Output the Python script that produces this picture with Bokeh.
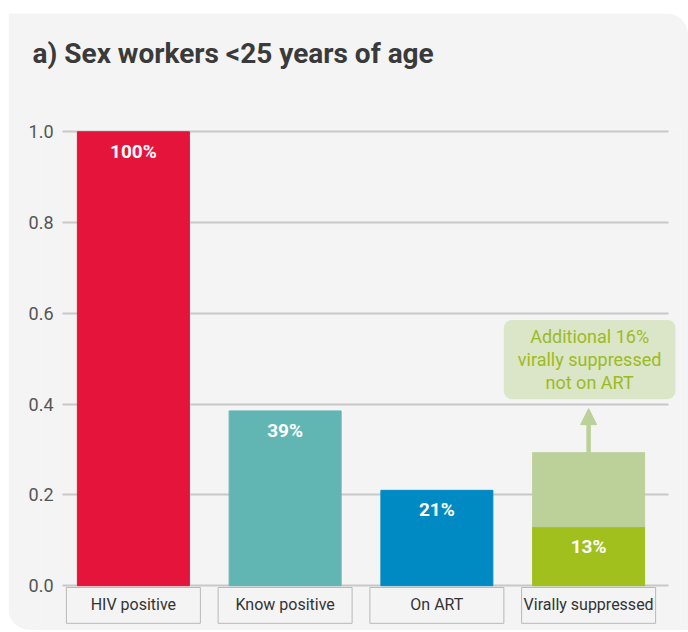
from bokeh.plotting import figure
from bokeh.models import (ColumnDataSource, FixedTicker, NumeralTickFormatter, Label, Arrow,
                          NormalHead, FactorRange, Title)
from bokeh.core.properties import value
from bokeh.embed import file_html
from bokeh.resources import INLINE

# ---- data ----
categories = ["HIV positive", "Know positive", "On ART", "Virally suppressed"]
values = [1.0, 0.385, 0.21, 0.13]
value_labels = ["100%", "39%", "21%", "13%"]
additional = 0.163          # virally suppressed, not on ART
additional_label = "Additional 16%\nvirally suppressed\nnot on ART"
y_ticks = [0.0, 0.2, 0.4, 0.6, 0.8, 1.0]
title_text = "a) Sex workers <25 years of age"

# ---- styles ----
bar_colors = ["#e4143b", "#61b6b4", "#008ac4", "#a1bf1d"]
extra_color = "#bcd09a"
BG = "#f4f4f4"
FONT = "Roboto, 'Liberation Sans', sans-serif"
BOX_Y, BOX_H = -0.0435, 0.079
NOTE_Y, ARROW_END = 0.498, 0.39
PAD = 0.1055                 # x padding of the frame, in category units
GRID_X = (0.032, 4.025)      # horizontal extent of grid lines, in category units

x_range = FactorRange(factors=categories, range_padding=PAD, range_padding_units="absolute")
p = figure(x_range=x_range, y_range=(-0.09, 1.005), width=680, height=617,
           output_backend="svg", toolbar_location=None,
           min_border_left=33, min_border_right=8, min_border_top=116, min_border_bottom=4,
           background_fill_color=BG, border_fill_color=BG, outline_line_color=None)
p.styles = {"border-radius": "0 22px 0 22px", "overflow": "hidden",
            "margin-top": "13px", "margin-left": "8px"}

p.title.text = title_text
p.title.text_font = FONT
p.title.text_font_size = "28px"
p.title.text_font_style = "bold"
p.title.text_color = "#3a3a3a"
p.title.offset = -9
p.title.standoff = 42
# empty spacer between the title and the plot area
p.add_layout(Title(text=" ", text_font_size="1px", standoff=36), "above")

src = ColumnDataSource(dict(cat=categories, val=values, lab=value_labels, color=bar_colors))
p.vbar(x="cat", top="val", width=0.738, color="color", source=src)
p.vbar(x=[categories[-1]], bottom=[values[-1]], top=[values[-1] + additional],
       width=0.738, color=extra_color)
p.text(x="cat", y="val", text="lab", source=src, text_align="center", text_baseline="top",
       y_offset=8, text_color="white", text_font_size="19px", text_font_style="bold",
       text_font=value(FONT))

# category boxes
p.rect(x=categories, y=BOX_Y, width=0.883, height=BOX_H, fill_color=None,
       line_color="#b8b8b8", line_width=1)

# annotation
xs = categories.index("Virally suppressed") + 0.5
p.add_layout(Arrow(end=NormalHead(size=16, fill_color=extra_color, line_color=extra_color),
                   x_start=xs, y_start=values[-1] + additional, x_end=xs, y_end=ARROW_END,
                   line_color=extra_color, line_width=4.5))
p.add_layout(Label(x=xs, y=NOTE_Y, x_offset=1, text=additional_label, text_align="center",
                   text_baseline="middle", text_color="#9cbb1e", text_font=FONT,
                   text_font_size="18px", text_line_height=1.1,
                   background_fill_color="#dbe5c8", border_radius=8,
                   padding=dict(x=14, y=6)))

# axes & grid
p.xgrid.grid_line_color = None
p.ygrid.ticker = FixedTicker(ticks=y_ticks)
p.ygrid.grid_line_color = "#c8c8c8"
p.ygrid.grid_line_width = 2
p.ygrid.cross_bounds = GRID_X

p.yaxis.ticker = FixedTicker(ticks=y_ticks)
p.yaxis.formatter = NumeralTickFormatter(format="0.0")
p.yaxis.axis_line_color = None
p.yaxis.major_tick_line_color = None
p.yaxis.minor_tick_line_color = None
p.yaxis.major_label_standoff = -18
p.yaxis.major_label_text_font = FONT
p.yaxis.major_label_text_font_size = "18px"
p.yaxis.major_label_text_color = "#555555"

p.xaxis.axis_line_color = None
p.xaxis.major_tick_line_color = None
p.xaxis.major_label_standoff = -38
p.xaxis.major_label_text_font = FONT
p.xaxis.major_label_text_font_size = "16px"
p.xaxis.major_label_text_color = "#333333"

open("out.html", "w").write(file_html(p, INLINE))
